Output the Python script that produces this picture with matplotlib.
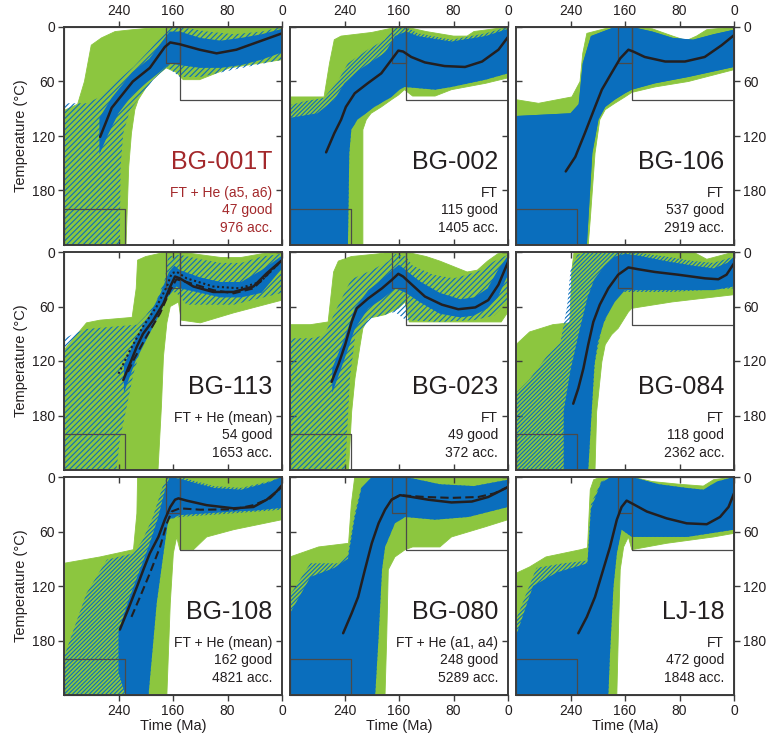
import matplotlib
matplotlib.use("Agg")
import matplotlib.pyplot as plt
import numpy as np

plt.rcParams['font.family'] = ['Liberation Sans', 'DejaVu Sans']
plt.rcParams['hatch.linewidth'] = 0.8

# ---------------- panel annotations ----------------
samples = ["BG-001T", "BG-002", "BG-106", "BG-113", "BG-023", "BG-084", "BG-108", "BG-080", "LJ-18"]
methods = ["FT + He (a5, a6)", "FT", "FT", "FT + He (mean)", "FT", "FT",
           "FT + He (mean)", "FT + He (a1, a4)", "FT"]
n_good = [47, 115, 537, 54, 49, 118, 162, 248, 472]
n_acc = [976, 1405, 2919, 1653, 372, 2362, 4821, 5289, 1848]

# constraint boxes: (old Ma, young Ma, Tmin, Tmax)
constraint_boxes = [(320, 230, 200, 240), (170, 150, 0, 40), (150, 0, 0, 80)]

x_ticks = [240, 160, 80, 0]
y_ticks = [0, 60, 120, 180]

# ---------------- envelopes & mean paths (Ma, degC) ----------------
# BG-001T
bg001t_mean_t = [267, 250, 219, 194, 172, 164, 150, 121, 96, 67, 41, 0]
bg001t_mean_T = [121, 89, 60, 45, 22, 17, 19, 25, 29, 25, 18, 7]
bg001t_green_top = [(320, 92), (300, 85), (290, 60), (280, 20), (265, 12), (245, 5), (220, 3), (175, 0), (0, 0)]
bg001t_green_bot = [(320, 240), (229, 240), (225, 154), (221, 117), (216, 91), (211, 80), (199, 66), (190, 58),
                    (180, 51), (170, 45), (155, 50), (145, 58), (121, 58), (77, 45), (0, 36)]
bg001t_blue_top = [(320, 84), (287, 84), (267, 77), (252, 66), (218, 44), (194, 25), (174, 7), (169, 1), (150, 0),
                   (110, 5), (70, 8), (30, 5), (0, 0)]
bg001t_blue_bot = [(320, 240), (238, 240), (237, 154), (233, 117), (223, 91), (208, 77), (189, 58), (169, 44),
                   (150, 55), (120, 55), (71, 47), (0, 36)]
bg001t_core_top = [(268, 100), (250, 78), (220, 50), (195, 35), (172, 12), (165, 5), (150, 5), (120, 12),
                   (90, 15), (60, 12), (30, 8), (0, 2)]
bg001t_core_bot = [(268, 140), (255, 118), (240, 95), (220, 75), (200, 62), (180, 50), (165, 40), (150, 42),
                   (120, 45), (90, 45), (60, 42), (30, 36), (0, 28)]

# BG-002
bg002_mean_t = [267, 255, 245, 238, 225, 206, 186, 171, 161, 154, 142, 122, 93, 63, 38, 14, 0]
bg002_mean_T = [138, 117, 102, 88, 73, 62, 51, 36, 26, 27, 33, 39, 43, 44, 38, 25, 11]
bg002_green_top = [(320, 77), (270, 77), (262, 40), (255, 14), (245, 10), (200, 6), (175, 2), (165, 0), (150, 0),
                   (120, 5), (80, 10), (60, 10), (50, 5), (0, 0)]
bg002_green_bot = [(320, 240), (213, 240), (213, 113), (208, 102), (201, 95), (186, 88), (171, 80), (161, 75),
                   (152, 69), (140, 76), (107, 76), (83, 69), (33, 62), (0, 56)]
bg002_blue_top = [(320, 86), (300, 82), (270, 78), (250, 60), (235, 40), (206, 25), (181, 14), (166, 0), (150, 0),
                  (132, 7), (83, 14), (33, 7), (0, 0)]
bg002_blue_bot = [(320, 240), (235, 240), (233, 139), (230, 113), (221, 102), (196, 88), (171, 77), (159, 69),
                  (152, 66), (107, 69), (83, 66), (33, 58), (0, 51)]
bg002_core_top = [(320, 100), (280, 95), (255, 80), (240, 62), (220, 48), (200, 38), (180, 28), (166, 10),
                  (150, 5), (132, 10), (83, 16), (33, 10), (0, 2)]
bg002_core_bot = [(320, 240), (235, 240), (233, 139), (230, 113), (221, 102), (196, 88), (171, 77), (159, 69),
                  (152, 66), (107, 69), (83, 66), (33, 58), (0, 51)]

# BG-106
bg106_mean_t = [247, 233, 219, 204, 194, 180, 167, 155, 148, 131, 101, 72, 43, 18, 0]
bg106_mean_T = [159, 143, 117, 88, 69, 51, 34.5, 25, 27, 33, 38, 38, 33, 20, 9]
bg106_green_top = [(320, 80), (287, 84), (238, 77), (226, 60), (222, 29), (216, 7), (190, 2), (170, 0), (150, 0),
                   (120, 2), (90, 10), (70, 15), (55, 10), (40, 3), (0, 0)]
bg106_green_bot = [(320, 240), (214, 240), (211, 212), (204, 139), (197, 102), (189, 91), (175, 84), (160, 77),
                   (150, 72), (116, 66), (67, 60), (0, 47)]
bg106_blue_top = [(320, 98), (240, 95), (228, 85), (222, 40), (210, 10), (175, 0), (150, 0), (120, 5), (90, 12),
                  (60, 14), (30, 8), (0, 3)]
bg106_blue_bot = [(320, 240), (216, 240), (208, 139), (199, 102), (189, 88), (175, 80), (160, 73), (150, 69),
                  (116, 62), (67, 55), (0, 44)]
bg106_core_top = bg106_blue_top
bg106_core_bot = bg106_blue_bot

# BG-113
bg113_mean_t = [233, 221, 213, 204, 189, 174, 164, 157, 150, 130, 101, 71, 42, 22.5, 0]
bg113_mean_T = [141, 119, 104, 90, 75, 56.5, 38, 27, 29, 38, 44, 44, 38, 23.5, 9]
bg113_dash_t = [226, 218, 199, 179, 164, 155, 140, 101, 71, 42, 0]
bg113_dash_T = [132, 119, 93, 67.5, 42, 30, 33, 42, 45.5, 40, 9]
bg113_dot_t = [240, 223, 204, 184, 169, 162, 155, 140, 101, 62, 32, 0]
bg113_dot_T = [134, 108, 82, 60, 38, 23.5, 21.6, 29, 38, 40, 33, 9]
bg113_green_top = [(320, 108), (287, 78), (267, 75), (220, 72), (214, 40), (212, 9), (200, 5), (170, 0), (150, 0),
                   (120, 3), (90, 6), (60, 6), (30, 2), (0, 0)]
bg113_green_bot = [(320, 240), (182, 240), (177, 170), (174, 115), (169, 78), (164, 60), (152, 55), (148, 75),
                   (120, 78), (71, 67), (0, 53)]
bg113_blue_top = [(320, 95), (290, 85), (245, 82), (213, 80), (200, 70), (185, 55), (172, 30), (167, 5), (150, 3),
                  (120, 8), (90, 12), (60, 12), (30, 5), (0, 2)]
bg113_blue_bot = [(320, 240), (243, 240), (238, 207), (218, 134), (203.5, 97), (194, 78.5), (179, 60), (169, 42),
                  (155, 45), (140, 58), (71, 58), (0, 45)]
bg113_core_top = [(232, 125), (215, 95), (195, 70), (178, 45), (166, 22), (158, 15), (150, 20), (120, 28),
                  (90, 33), (60, 33), (30, 20), (0, 4)]
bg113_core_bot = [(232, 155), (215, 120), (198, 95), (182, 72), (168, 50), (155, 38), (150, 40), (120, 45),
                  (90, 50), (60, 50), (30, 45), (0, 18)]

# BG-023
bg023_mean_t = [259, 249, 239, 229.5, 222, 205, 185, 171, 161, 154, 141, 122, 97, 73, 48, 29, 14, 0]
bg023_mean_T = [143, 124, 102, 77, 62, 51, 40, 31, 24, 27, 36, 49, 58, 63, 61, 53, 36, 11]
bg023_green_top = [(320, 80), (290, 80), (264, 77), (256, 22), (249, 10), (230, 5), (190, 2), (170, 0), (150, 0),
                   (120, 5), (100, 10), (80, 16), (60, 22), (45, 20), (30, 10), (15, 2), (0, 0)]
bg023_green_bot = [(320, 240), (234, 240), (229.5, 176), (224.6, 139), (217, 102), (213, 84), (205, 73),
                   (180.5, 69), (161, 62), (151, 55), (145, 77), (10, 77), (0, 66)]
bg023_blue_top = [(320, 95), (290, 95), (270, 92), (250, 60), (230, 30), (200, 20), (175, 10), (165, 2), (150, 5),
                  (140, 15), (110, 25), (80, 29), (60, 25), (40, 20), (20, 10), (0, 3)]
bg023_blue_bot = [(320, 240), (239, 240), (232, 139), (224.6, 95), (200, 73), (166, 66), (150, 75), (100, 77),
                  (50, 75), (20, 70), (0, 55)]
bg023_core_top = [(258, 128), (240, 95), (225, 62), (205, 42), (185, 30), (170, 20), (160, 14), (150, 20),
                  (130, 32), (100, 45), (70, 52), (50, 50), (30, 40), (15, 20), (0, 4)]
bg023_core_bot = [(258, 155), (240, 118), (225, 85), (205, 62), (185, 52), (165, 40), (150, 45), (130, 55),
                  (100, 68), (70, 72), (50, 70), (30, 62), (15, 50), (0, 25)]

# BG-084
bg084_mean_t = [236, 228.5, 221, 214, 206.5, 197, 184.5, 170, 155, 140.5, 116, 82, 42.5, 23, 11, 0]
bg084_mean_T = [167, 150, 128, 102, 77, 58, 40, 25, 17, 19, 22, 25, 29, 30, 25, 12.5]
bg084_green_top = [(320, 102), (300, 88), (266, 80), (241, 78), (238, 20), (235, 1), (220, 0), (60, 0), (40, 8),
                   (25, 5), (0, 0)]
bg084_green_bot = [(320, 240), (204, 240), (201.6, 176), (194, 121), (189, 102), (179.6, 91), (170, 84),
                   (155, 66), (150, 62), (91, 55), (0, 47)]
bg084_blue_top = [(320, 155), (300, 140), (275, 115), (255, 100), (245, 60), (240, 20), (230, 3), (215, 0),
                  (150, 0), (100, 5), (60, 10), (30, 12), (0, 5)]
bg084_blue_bot = [(320, 240), (214, 240), (209, 176), (204, 121), (194, 84), (179.6, 58), (165, 44), (150, 44),
                  (91, 44), (0, 40)]
bg084_core_top = [(250, 175), (240, 130), (228, 90), (215, 50), (205, 30), (190, 15), (175, 5), (160, 2),
                  (140, 4), (100, 10), (60, 15), (30, 18), (10, 12), (0, 5)]
bg084_core_bot = [(250, 240), (214, 240), (209, 176), (205, 125), (200, 100), (190, 75), (175, 55), (160, 42),
                  (140, 42), (100, 42), (60, 42), (30, 42), (0, 38)]

# BG-108
bg108_mean_t = [238, 226, 213, 203.5, 194, 181.5, 172, 164, 157, 152, 140, 110.6, 71, 42, 22.5, 8, 0]
bg108_mean_T = [168, 146, 121, 102, 84, 66, 47, 33, 25, 23.5, 26, 31, 34.5, 33, 25, 16, 9]
bg108_dash_t = [221, 208.4, 194, 179, 169, 162, 150, 120, 71, 42, 17.6, 0]
bg108_dash_T = [154, 132, 106, 77, 51, 38, 34.5, 36, 35.6, 31, 23.5, 10.6]
bg108_green_top = [(320, 95), (267, 88), (218, 80), (213, 40), (212, 0), (0, 0)]
bg108_green_bot = [(320, 240), (169, 240), (164, 139), (159.5, 84), (154.6, 66), (150, 80), (130, 80),
                   (110.6, 66), (71, 58), (0, 47)]
bg108_blue_top = [(320, 198), (287, 128), (257, 91), (218, 84), (205, 70), (190, 45), (175, 10), (168, 0), (150, 0),
                  (100, 10), (60, 12), (20, 5), (0, 0)]
bg108_blue_bot = [(320, 240), (196, 240), (184, 139), (174, 84), (167, 47), (150, 44), (71, 40), (0, 36)]
bg108_core_top = [(240, 170), (225, 135), (210, 105), (195, 75), (182, 45), (172, 15), (165, 0), (150, 2),
                  (100, 12), (60, 14), (20, 6), (0, 0)]
bg108_core_bot = [(240, 215), (230, 240), (196, 240), (184, 139), (174, 84), (167, 47), (150, 42), (110, 40),
                  (71, 38), (40, 37), (0, 34)]

# BG-080
bg080_mean_t = [242, 229.5, 220, 210, 200, 190, 180.5, 171, 158.5, 141, 117, 83, 53, 29, 0]
bg080_mean_T = [172, 150, 132, 102, 73, 51, 36, 25, 20, 22, 25, 28, 27, 22, 11]
bg080_dash_t = [171, 158.5, 141, 122, 83, 43.5, 20, 0]
bg080_dash_T = [25, 20, 21, 22, 23, 22, 18, 11]
bg080_green_top = [(320, 88), (278, 77), (234, 73), (230, 30), (225, 0), (0, 0)]
bg080_green_bot = [(320, 240), (180.5, 240), (178, 176), (175.7, 102), (166, 88), (151, 80), (140, 77), (100, 77),
                   (83, 66), (34, 55), (0, 47)]
bg080_blue_top = [(320, 130), (290, 95), (250, 95), (235, 85), (225, 40), (215, 10), (200, 0), (150, 0), (100, 8),
                  (50, 10), (0, 3)]
bg080_blue_bot = [(320, 240), (195, 240), (190, 176), (185, 102), (180.5, 77), (166, 51), (151, 44), (107, 47),
                  (58, 44), (0, 33)]
bg080_core_top = [(320, 150), (290, 110), (255, 100), (235, 90), (225, 45), (215, 12), (200, 0), (150, 0),
                  (100, 8), (50, 10), (0, 3)]
bg080_core_bot = bg080_blue_bot

# LJ-18
lj18_mean_t = [228.5, 216, 204, 192, 182, 172, 165, 157.6, 150, 128, 99, 69.5, 40, 20.5, 8, 0]
lj18_mean_T = [172, 154, 132, 102, 77, 47, 33, 26, 29, 38, 45.5, 51, 52, 44, 33, 18]
lj18_green_top = [(320, 106), (300, 99), (276, 88), (225, 80), (215, 78), (211, 14), (206, 3), (195, 0), (150, 0),
                  (120, 5), (80, 8), (45, 10), (30, 3), (0, 0)]
lj18_green_bot = [(320, 240), (172, 240), (169.5, 165), (167, 102), (162, 77), (155, 66), (150, 80), (99, 73),
                  (30, 66), (0, 62)]
lj18_blue_top = [(320, 157), (290, 100), (250, 95), (215, 92), (210, 30), (195, 5), (180, 0), (150, 0), (110, 8),
                 (70, 12), (45, 14), (25, 5), (0, 0)]
lj18_blue_bot = [(320, 240), (184.5, 240), (182, 194), (177, 121), (172, 84), (165, 58), (150, 66), (69, 66),
                 (0, 58)]
lj18_core_top = [(320, 175), (295, 120), (260, 105), (215, 95), (210, 35), (195, 6), (180, 0), (150, 0),
                 (110, 8), (70, 12), (45, 14), (25, 5), (0, 0)]
lj18_core_bot = lj18_blue_bot

# hatch pattern used for the sparse part of the good-path envelope
sparse_hatch = ['//////', '////////', None, '//////', '//////', '////////', '////////', '////////', '////////']

panels = [
    dict(gt=bg001t_green_top, gb=bg001t_green_bot, bt=bg001t_blue_top, bb=bg001t_blue_bot,
         ct=bg001t_core_top, cb=bg001t_core_bot, mean=(bg001t_mean_t, bg001t_mean_T)),
    dict(gt=bg002_green_top, gb=bg002_green_bot, bt=bg002_blue_top, bb=bg002_blue_bot,
         ct=bg002_core_top, cb=bg002_core_bot, mean=(bg002_mean_t, bg002_mean_T)),
    dict(gt=bg106_green_top, gb=bg106_green_bot, bt=bg106_blue_top, bb=bg106_blue_bot,
         ct=bg106_core_top, cb=bg106_core_bot, mean=(bg106_mean_t, bg106_mean_T)),
    dict(gt=bg113_green_top, gb=bg113_green_bot, bt=bg113_blue_top, bb=bg113_blue_bot,
         ct=bg113_core_top, cb=bg113_core_bot, mean=(bg113_mean_t, bg113_mean_T),
         dash=(bg113_dash_t, bg113_dash_T), dot=(bg113_dot_t, bg113_dot_T)),
    dict(gt=bg023_green_top, gb=bg023_green_bot, bt=bg023_blue_top, bb=bg023_blue_bot,
         ct=bg023_core_top, cb=bg023_core_bot, mean=(bg023_mean_t, bg023_mean_T)),
    dict(gt=bg084_green_top, gb=bg084_green_bot, bt=bg084_blue_top, bb=bg084_blue_bot,
         ct=bg084_core_top, cb=bg084_core_bot, mean=(bg084_mean_t, bg084_mean_T)),
    dict(gt=bg108_green_top, gb=bg108_green_bot, bt=bg108_blue_top, bb=bg108_blue_bot,
         ct=bg108_core_top, cb=bg108_core_bot, mean=(bg108_mean_t, bg108_mean_T),
         dash=(bg108_dash_t, bg108_dash_T)),
    dict(gt=bg080_green_top, gb=bg080_green_bot, bt=bg080_blue_top, bb=bg080_blue_bot,
         ct=bg080_core_top, cb=bg080_core_bot, mean=(bg080_mean_t, bg080_mean_T),
         dash=(bg080_dash_t, bg080_dash_T)),
    dict(gt=lj18_green_top, gb=lj18_green_bot, bt=lj18_blue_top, bb=lj18_blue_bot,
         ct=lj18_core_top, cb=lj18_core_bot, mean=(lj18_mean_t, lj18_mean_T)),
]

GREEN = '#8cc63f'
BLUE = '#0a6ebd'
DARK = '#231f20'
RED = '#a3282b'
SPINE = '#3c3c3c'

W_PX, H_PX = 769, 737
fig = plt.figure(figsize=(W_PX / 100, H_PX / 100), dpi=100)

lefts = [64, 290, 516]
tops = [27, 252, 477]
pw, ph = 218, 218


def polygon(top, bot):
    pts = list(top) + list(bot)[::-1]
    return [p[0] for p in pts], [p[1] for p in pts]


tick_kw = dict(length=4, width=1.0, color=SPINE, labelsize=10, labelcolor=DARK, pad=2.5)

for i, p in enumerate(panels):
    r, c = divmod(i, 3)
    ax = fig.add_axes([lefts[c] / W_PX, 1 - (tops[r] + ph) / H_PX, pw / W_PX, ph / H_PX])
    ax.set_xlim(320, 0)
    ax.set_ylim(240, 0)

    gx, gy = polygon(p['gt'], p['gb'])
    ax.fill(gx, gy, color=GREEN, lw=0.6, ec=GREEN, zorder=1)
    bx, by = polygon(p['bt'], p['bb'])
    if sparse_hatch[i]:
        ax.fill(bx, by, facecolor='none', edgecolor=BLUE, hatch=sparse_hatch[i], lw=0, zorder=2)
    else:
        ax.fill(bx, by, color=BLUE, lw=0, zorder=2)
    cx, cy = polygon(p['ct'], p['cb'])
    ax.fill(cx, cy, color=BLUE, lw=0, zorder=2.5)

    for (t0, t1, T0, T1) in constraint_boxes:
        ax.plot([t0, t1, t1, t0, t0], [T0, T0, T1, T1, T0], color='#4a4a4a', lw=0.9, zorder=3)

    ax.plot(*p['mean'], color=DARK, lw=1.8, zorder=5, solid_capstyle='round')
    if 'dash' in p:
        ax.plot(*p['dash'], color=DARK, lw=1.5, ls=(0, (4, 2)), zorder=5)
    if 'dot' in p:
        ax.plot(*p['dot'], color=DARK, lw=1.5, ls=(0, (1, 1.3)), zorder=5)

    col = RED if i == 0 else DARK
    ax.text(0.955, 0.38, samples[i], transform=ax.transAxes, ha='right', va='center',
            fontsize=18, color=col, zorder=6)
    ax.text(0.955, 0.24, methods[i], transform=ax.transAxes, ha='right', va='center',
            fontsize=10, color=col, zorder=6)
    ax.text(0.955, 0.16, f"{n_good[i]} good", transform=ax.transAxes, ha='right', va='center',
            fontsize=10, color=col, zorder=6)
    ax.text(0.955, 0.078, f"{n_acc[i]} acc.", transform=ax.transAxes, ha='right', va='center',
            fontsize=10, color=col, zorder=6)

    ax.set_xticks(x_ticks)
    ax.set_yticks(y_ticks)
    # inward ticks on unlabelled sides
    ax.tick_params(axis='both', direction='in', **tick_kw,
                   top=(r != 0), bottom=(r != 2), left=(c != 0), right=(c != 2),
                   labeltop=False, labelbottom=False, labelleft=False, labelright=False)
    # outward ticks with labels on the outer sides
    if r == 0:
        s = ax.secondary_xaxis('top')
        s.set_xticks(x_ticks)
        s.tick_params(direction='out', **tick_kw)
    if r == 2:
        s = ax.secondary_xaxis('bottom')
        s.set_xticks(x_ticks)
        s.tick_params(direction='out', **tick_kw)
        s.set_xlabel("Time (Ma)", fontsize=10.5, color=DARK, labelpad=1)
    if c == 0:
        s = ax.secondary_yaxis('left')
        s.set_yticks(y_ticks)
        s.tick_params(direction='out', **tick_kw)
        s.set_ylabel("Temperature (°C)", fontsize=10.5, color=DARK, labelpad=3)
    if c == 2:
        s = ax.secondary_yaxis('right')
        s.set_yticks(y_ticks)
        s.tick_params(direction='out', **tick_kw)

    for sp in ax.spines.values():
        sp.set_color(SPINE)
        sp.set_linewidth(1.4)
        sp.set_zorder(7)

fig.savefig("out.png", dpi=100)
